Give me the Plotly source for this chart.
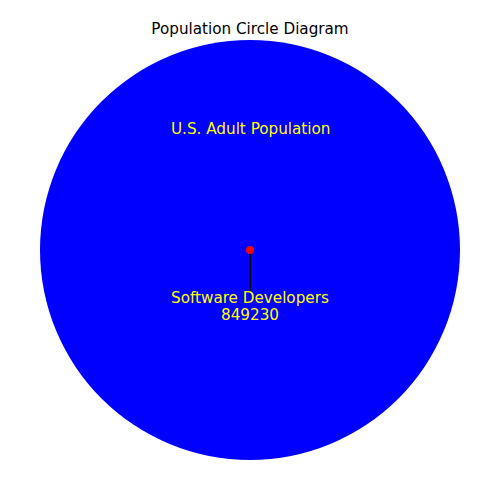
import plotly.graph_objects as go

labels = ["U.S. Adult Population", "Software Developers"]
values = [258300000, 849230]
circle_colors = ["blue", "red"]
text_color = "yellow"

fig = go.Figure()

# big circle
fig.add_shape(type="circle", xref="x", yref="y", x0=-1, y0=-1, x1=1, y1=1,
              fillcolor=circle_colors[0], line=dict(width=0), layer="below")
# connector line
fig.add_trace(go.Scatter(x=[0, 0], y=[0, -0.2], mode="lines",
                         line=dict(color="black", width=2), hoverinfo="skip", showlegend=False))
# small circle
fig.add_trace(go.Scatter(x=[0], y=[0], mode="markers",
                         marker=dict(color=circle_colors[1], size=8, line=dict(width=0)),
                         showlegend=False))

font = dict(color=text_color, size=15.2, family="DejaVu Sans")
fig.add_annotation(x=0, y=0.576, text=labels[0], showarrow=False, font=font)
fig.add_annotation(x=0, y=-0.2286, text=labels[1], showarrow=False, font=font)
fig.add_annotation(x=0, y=-0.3095, text=str(values[1]), showarrow=False, font=font)

fig.update_layout(
    width=500, height=500,
    margin=dict(l=40, r=40, t=40, b=40),
    paper_bgcolor="white", plot_bgcolor="white",
    title=dict(text="Population Circle Diagram", x=0.5, xanchor="center", y=1 - 29/500, yanchor="middle",
               font=dict(size=15.2, color="black", family="DejaVu Sans")),
    xaxis=dict(range=[-1, 1], visible=False, fixedrange=True),
    yaxis=dict(range=[-1, 1], visible=False, fixedrange=True),
    showlegend=False,
)

fig.write_html("out.html")
